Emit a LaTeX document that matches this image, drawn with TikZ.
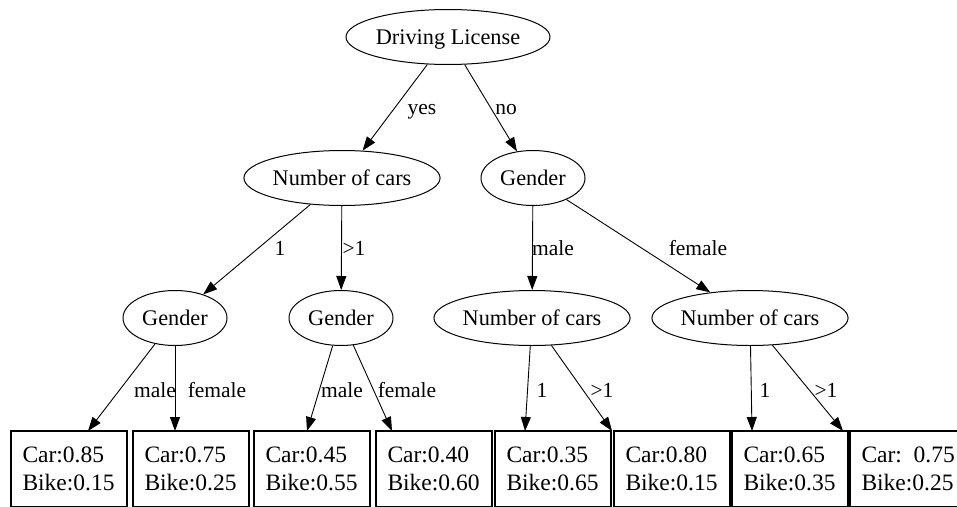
\documentclass[tikz,border=0pt]{standalone}
\usepackage{fontspec}
\setmainfont{Liberation Serif}
\usetikzlibrary{shapes.geometric,arrows.meta}

\newcommand\leaffont{\fontsize{23.5}{28}\selectfont}

\tikzset{
  test/.style={ellipse, draw, line width=1pt, inner sep=0pt,
    minimum height=55pt, text height=14pt, text depth=0pt,
    font=\fontsize{22.3}{26}\selectfont},
  leaf/.style={rectangle, draw, line width=2pt, anchor=north west,
    align=left, text width=93pt, inner xsep=11.5pt, inner ysep=16pt,
    font=\leaffont},
  edge/.style={line width=0.9pt, -{Triangle[length=14pt,width=10pt]}},
  elabel/.style={anchor=base, inner sep=0pt,
    font=\fontsize{21.5}{25}\selectfont}
}

\begin{document}
\begin{tikzpicture}[x=1pt,y=-1pt]
\useasboundingbox (0,0) rectangle (957,506);
\clip (0,0) rectangle (957,506);

% decision nodes
\node[test, minimum width=177pt] (dl)  at (448,37)  {Driving License};
\node[test, minimum width=181pt] (nc1) at (342,178) {Number of cars};
\node[test, minimum width=104pt] (g2)  at (533,178) {Gender};
\node[test, minimum width=104pt] (g31) at (175,318) {Gender};
\node[test, minimum width=104pt] (g32) at (341,318) {Gender};
\node[test, minimum width=179pt] (nc3) at (532,318) {Number of cars};
\node[test, minimum width=178pt] (nc4) at (750,318) {Number of cars};

% leaf distributions
\node[leaf] (b1) at (10,430)  {Car:0.85\\Bike:0.15};
\node[leaf] (b2) at (132,430) {Car:0.75\\Bike:0.25};
\node[leaf] (b3) at (253,430) {Car:0.45\\Bike:0.55};
\node[leaf] (b4) at (375,430) {Car:0.40\\Bike:0.60};
\node[leaf] (b5) at (494,430) {Car:0.35\\Bike:0.65};
\node[leaf] (b6) at (613,430) {Car:0.80\\Bike:0.15};
\node[leaf] (b7) at (731,430) {Car:0.65\\Bike:0.35};
\node[leaf] (b8) at (849,430) {\mbox{\spaceskip=4pt\relax Car: 0.75}\\\mbox{Bike:0.25}};

% upper edges
\draw[edge] (dl) -- (nc1);
\draw[edge] (dl) -- (g2);
\draw[edge] (nc1) -- (g31);
\draw[edge] (nc1) -- (g32);
\draw[edge] (g2) -- (nc3);
\draw[edge] (g2) -- (nc4);

% edges into the leaves
\draw[edge] (g31) -- ([xshift=78pt,yshift=-1pt]b1.north west);
\draw[edge] (g31) -- ([xshift=43pt,yshift=-1pt]b2.north west);
\draw[edge] (g32) -- ([xshift=54pt,yshift=-1pt]b3.north west);
\draw[edge] (g32) -- ([xshift=17pt,yshift=-1pt]b4.north west);
\draw[edge] (nc3) -- ([xshift=31pt,yshift=-1pt]b5.north west);
\draw[edge] (nc3) -- ([xshift=-1pt,yshift=-1pt]b6.north west);
\draw[edge] (nc4) -- ([xshift=21pt,yshift=-1pt]b7.north west);
\draw[edge] (nc4) -- ([xshift=-6pt,yshift=-1pt]b8.north west);

% edge labels
\node[elabel] (lyes) at (422,114) {yes};
\node[elabel] (lno)  at (506,114) {no};
\node[elabel] (l1a)  at (280,255) {1};
\node[elabel] (l1b)  at (354,255) {>1};
\node[elabel] (lm1)  at (553,255) {male};
\node[elabel] (lf1)  at (698,255) {female};
\node[elabel] (lm2)  at (155,397) {male};
\node[elabel] (lf2)  at (217,397) {female};
\node[elabel] (lm3)  at (342,397) {male};
\node[elabel] (lf3)  at (407,397) {female};
\node[elabel] (l2a)  at (542,397) {1};
\node[elabel] (l2b)  at (602,397) {>1};
\node[elabel] (l3a)  at (765,397) {1};
\node[elabel] (l3b)  at (826,397) {>1};
\end{tikzpicture}
\end{document}
